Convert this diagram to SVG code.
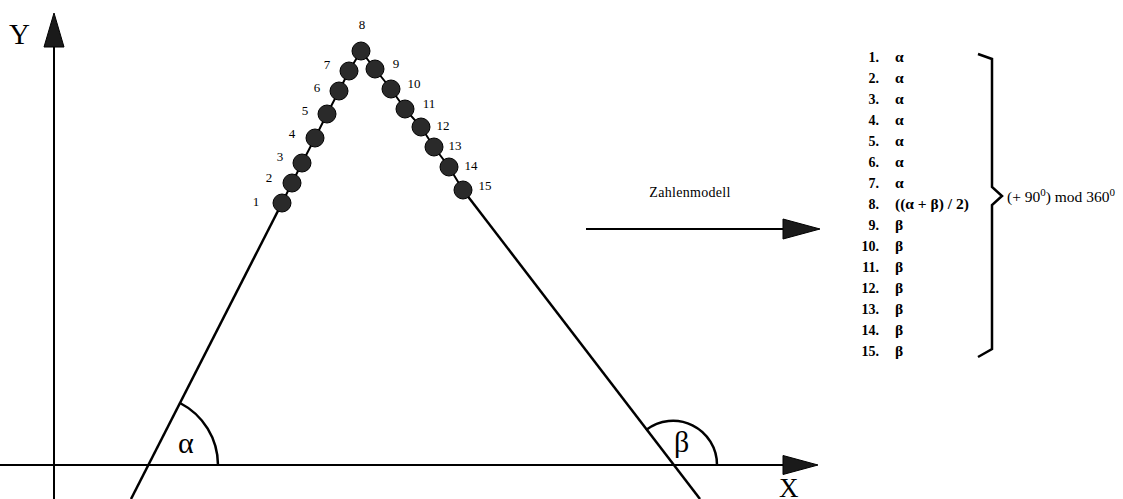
<svg xmlns="http://www.w3.org/2000/svg" width="1123" height="499" viewBox="0 0 1123 499">
<style>
.ax{stroke:#000;stroke-width:2;fill:none}
.ln{stroke:#000;stroke-width:2.5;fill:none}
.hd{fill:#1a1a1a;stroke:#000;stroke-width:1}
.dot{fill:#2a2a2a;stroke:#000;stroke-width:1}
.t{font-family:"Liberation Serif",serif;fill:#000}
.n{font-size:13px}
.l{font-size:14px;font-weight:bold}
.g{font-size:30px}
</style>
<rect width="1123" height="499" fill="#fff"/>
<g id="connectors">
<line class="ax" x1="54" y1="499" x2="54" y2="44"/>
<polygon class="hd" points="54,13 64,47 44,47"/>
<line class="ax" x1="0" y1="465" x2="786" y2="465"/>
<polygon class="hd" points="818,465 783,455.5 783,474.5"/>
<line class="ax" x1="586" y1="229" x2="786" y2="229"/>
<polygon class="hd" points="820,229 783,219 783,239"/>
<line class="ln" x1="131" y1="499" x2="282" y2="203"/>
<line class="ln" x1="463" y1="190" x2="700" y2="499"/>
<polyline class="ax" points="282,203 292,183 302,163 315,138 327,114 339,91 349,71 361,51 375,69 391,89 405,109 421,127 434,147 449,167 463,190"/>
<path class="ln" d="M218,465 A70,70 0 0 0 180,403"/>
<path class="ln" d="M717,465 A44,44 0 0 0 646,430"/>
<polyline class="ln" points="978,54 992,59 992,187 1002,196 992,205 992,349 978,357"/>
</g>
<g id="dots">
<circle class="dot" cx="282" cy="203" r="9"/>
<circle class="dot" cx="292" cy="183" r="9"/>
<circle class="dot" cx="302" cy="163" r="9"/>
<circle class="dot" cx="315" cy="138" r="9"/>
<circle class="dot" cx="327" cy="114" r="9"/>
<circle class="dot" cx="339" cy="91" r="9"/>
<circle class="dot" cx="349" cy="71" r="9"/>
<circle class="dot" cx="361" cy="51" r="9"/>
<circle class="dot" cx="375" cy="69" r="9"/>
<circle class="dot" cx="391" cy="89" r="9"/>
<circle class="dot" cx="405" cy="109" r="9"/>
<circle class="dot" cx="421" cy="127" r="9"/>
<circle class="dot" cx="434" cy="147" r="9"/>
<circle class="dot" cx="449" cy="167" r="9"/>
<circle class="dot" cx="463" cy="190" r="9"/>
</g>
<g id="dot-labels" class="t n" text-anchor="middle">
<text x="256" y="206">1</text>
<text x="269" y="182">2</text>
<text x="280" y="161">3</text>
<text x="292" y="138">4</text>
<text x="305" y="115">5</text>
<text x="317" y="92">6</text>
<text x="327" y="69">7</text>
<text x="362" y="29">8</text>
<text x="396" y="68">9</text>
<text x="414" y="88">10</text>
<text x="429" y="108">11</text>
<text x="443" y="130">12</text>
<text x="455" y="150">13</text>
<text x="471" y="170">14</text>
<text x="485" y="190">15</text>
</g>
<g id="axis-labels" class="t">
<text x="9" y="44" style="font-size:29px">Y</text>
<text x="779" y="497" style="font-size:27px">X</text>
<text x="178" y="453" class="g">α</text>
<text x="674" y="452" class="g">β</text>
<text x="690" y="197" text-anchor="middle" style="font-size:14px;letter-spacing:0.3px">Zahlenmodell</text>
</g>
<g id="list" class="t l">
<g text-anchor="end">
<text x="879" y="62">1.</text>
<text x="879" y="83">2.</text>
<text x="879" y="104">3.</text>
<text x="879" y="125">4.</text>
<text x="879" y="146">5.</text>
<text x="879" y="167">6.</text>
<text x="879" y="188">7.</text>
<text x="879" y="209">8.</text>
<text x="879" y="230">9.</text>
<text x="879" y="251">10.</text>
<text x="879" y="272">11.</text>
<text x="879" y="293">12.</text>
<text x="879" y="314">13.</text>
<text x="879" y="335">14.</text>
<text x="879" y="356">15.</text>
</g>
<g style="font-size:15.5px">
<text x="895" y="62">α</text>
<text x="895" y="83">α</text>
<text x="895" y="104">α</text>
<text x="895" y="125">α</text>
<text x="895" y="146">α</text>
<text x="895" y="167">α</text>
<text x="895" y="188">α</text>
<text x="895" y="209">((α + β) / 2)</text>
<text x="895" y="230">β</text>
<text x="895" y="251">β</text>
<text x="895" y="272">β</text>
<text x="895" y="293">β</text>
<text x="895" y="314">β</text>
<text x="895" y="335">β</text>
<text x="895" y="356">β</text>
</g>
</g>
<g id="formula" class="t">
<text x="1007" y="202" style="font-size:15.5px">(+ 90<tspan dy="-6" style="font-size:11px">0</tspan><tspan dy="6">) mod 360</tspan><tspan dy="-6" style="font-size:11px">0</tspan></text>
</g>
</svg>
